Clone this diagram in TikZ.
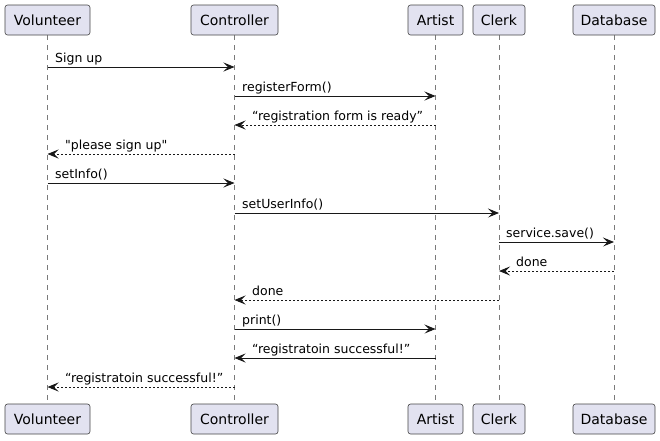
\documentclass[tikz,border=0pt]{standalone}
\usepackage{fontspec}
\setmainfont{DejaVu Sans}[Ligatures=TeXOff]
\usetikzlibrary{arrows.meta}
\definecolor{boxfill}{HTML}{E2E2F0}
\definecolor{ink}{HTML}{181818}
\definecolor{lifegray}{HTML}{7A7A7A}
\tikzset{
  part/.style={draw=ink!80, fill=boxfill, rounded corners=2.5pt, line width=0.6pt,
    minimum height=30pt, inner sep=0pt, font=\fontsize{14}{16}\selectfont},
  life/.style={draw=lifegray, line width=0.7pt, dash pattern=on 5pt off 5pt},
  msg/.style={draw=ink, line width=0.9pt, -{Stealth[length=11pt,width=9pt,inset=4.5pt]}},
  ret/.style={msg, dash pattern=on 2pt off 2pt},
  lbl/.style={font=\fontsize{12.5}{14}\selectfont, anchor=base west, inner sep=0pt, text=black},
}
\begin{document}
\begin{tikzpicture}[x=1pt,y=-1pt]
\useasboundingbox (0,0) rectangle (660,440);
\fill[white] (0,0) rectangle (660,440);
% lifelines
\foreach \n/\x in {v/47.5,c/234.5,a/435.5,k/499,d/614}{
  \coordinate (\n top) at (\x,35);
  \coordinate (\n bot) at (\x,404);
  \draw[life] (\n top) -- (\n bot);
}
% participants
\node[part, minimum width=85pt] (vol) at (47.5,20) {Volunteer};
\node[part, minimum width=87pt] (ctl) at (234.5,20) {Controller};
\node[part, minimum width=55pt] (art) at (435.5,20) {Artist};
\node[part, minimum width=52pt] (clk) at (499,20) {Clerk};
\node[part, minimum width=82pt] (db) at (614,20) {Database};
\node[part, minimum width=85pt] (vol2) at (47.5,419) {Volunteer};
\node[part, minimum width=87pt] (ctl2) at (234.5,419) {Controller};
\node[part, minimum width=55pt] (art2) at (435.5,419) {Artist};
\node[part, minimum width=52pt] (clk2) at (499,419) {Clerk};
\node[part, minimum width=82pt] (db2) at (614,419) {Database};
% messages
\draw[msg] (vol.south |- 0,67) -- (ctl.south |- 0,67);
\node[lbl] at (55,62) {Sign up};
\draw[msg] (ctl.south |- 0,96) -- (art.south |- 0,96);
\node[lbl] at (242,91) {registerForm()};
\draw[ret] (art.south |- 0,125) -- (ctl.south |- 0,125);
\node[lbl] at (252,120) {“registration form is ready”};
\draw[ret] (ctl.south |- 0,154) -- (vol.south |- 0,154);
\node[lbl] at (65,149) {"please sign up"};
\draw[msg] (vol.south |- 0,183) -- (ctl.south |- 0,183);
\node[lbl] at (55,178) {setInfo()};
\draw[msg] (ctl.south |- 0,213) -- (clk.south |- 0,213);
\node[lbl] at (242,208) {setUserInfo()};
\draw[msg] (clk.south |- 0,242) -- (db.south |- 0,242);
\node[lbl] at (506,237) {service.save()};
\draw[ret] (db.south |- 0,271) -- (clk.south |- 0,271);
\node[lbl] at (516,266) {done};
\draw[ret] (clk.south |- 0,300) -- (ctl.south |- 0,300);
\node[lbl] at (252,295) {done};
\draw[msg] (ctl.south |- 0,329) -- (art.south |- 0,329);
\node[lbl] at (242,324) {print()};
\draw[msg] (art.south |- 0,358) -- (ctl.south |- 0,358);
\node[lbl] at (252,353) {“registratoin successful!”};
\draw[ret] (ctl.south |- 0,387) -- (vol.south |- 0,387);
\node[lbl] at (65,382) {“registratoin successful!”};
\end{tikzpicture}
\end{document}
